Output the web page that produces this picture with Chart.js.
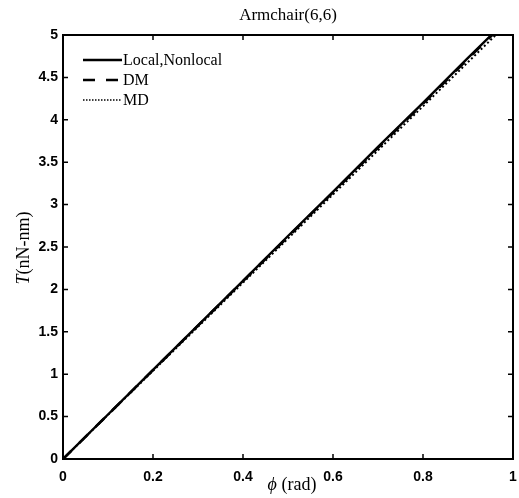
<!DOCTYPE html>
<html>
<head>
<meta charset="utf-8">
<script src="https://cdn.jsdelivr.net/npm/chart.js@4/dist/chart.umd.min.js"></script>
<style>
  html, body { margin: 0; padding: 0; background: #fff; }
  #wrap { width: 519px; height: 498px; }
</style>
</head>
<body>
<div id="wrap"><canvas id="torque-chart" width="519" height="498"></canvas></div>
<script>
// values
const phi = [0, 0.1, 0.2, 0.3, 0.4, 0.5, 0.6, 0.7, 0.8, 0.9, 1.0];
const localNonlocal = [0, 0.525, 1.05, 1.575, 2.1, 2.63, 3.15, 3.68, 4.2, 4.73, 5.25];
const dm = [0, 0.524, 1.048, 1.572, 2.097, 2.62, 3.145, 3.67, 4.19, 4.72, 5.24];
const md = [0, 0.52, 1.04, 1.56, 2.08, 2.6, 3.12, 3.64, 4.16, 4.68, 5.2];
const xTicks = [0, 0.2, 0.4, 0.6, 0.8, 1];
const yTicks = [0, 0.5, 1, 1.5, 2, 2.5, 3, 3.5, 4, 4.5, 5];

const toPoints = ys => phi.map((x, i) => ({ x: x, y: ys[i] }));

const legendItems = [
  { label: 'Local,Nonlocal', dash: [], width: 2.6 },
  { label: 'DM', dash: [12, 11], width: 2.6 },
  { label: 'MD', dash: [1.5, 1.5], width: 1.4 }
];

// box, inward ticks, legend and text
const decorations = {
  id: 'decorations',
  afterDraw(chart) {
    const ctx = chart.ctx;
    const a = chart.chartArea;
    const xs = chart.scales.x, ys = chart.scales.y;
    ctx.save();
    ctx.strokeStyle = '#000';
    ctx.lineWidth = 2;
    ctx.strokeRect(a.left, a.top, a.right - a.left, a.bottom - a.top);
    ctx.lineWidth = 1.5;
    const tl = 5;
    ctx.beginPath();
    xTicks.forEach(v => {
      const px = xs.getPixelForValue(v);
      ctx.moveTo(px, a.bottom); ctx.lineTo(px, a.bottom - tl);
      ctx.moveTo(px, a.top); ctx.lineTo(px, a.top + tl);
    });
    yTicks.forEach(v => {
      const py = ys.getPixelForValue(v);
      ctx.moveTo(a.left, py); ctx.lineTo(a.left + tl, py);
      ctx.moveTo(a.right, py); ctx.lineTo(a.right - tl, py);
    });
    ctx.stroke();

    // legend
    ctx.font = '16px "Liberation Serif", serif';
    ctx.textBaseline = 'middle';
    ctx.fillStyle = '#000';
    legendItems.forEach((it, i) => {
      const y = 60 + i * 20;
      ctx.beginPath();
      ctx.setLineDash(it.dash);
      ctx.lineWidth = it.width;
      ctx.moveTo(83, y); ctx.lineTo(122, y);
      ctx.stroke();
      ctx.setLineDash([]);
      ctx.fillText(it.label, 123, y + 1);
    });

    // title
    ctx.textAlign = 'center';
    ctx.font = '17px "Liberation Serif", serif';
    ctx.fillText('Armchair(6,6)', (a.left + a.right) / 2, 16);

    // x label: φ (rad)
    ctx.textAlign = 'left';
    ctx.font = 'italic 18px "Liberation Serif", serif';
    const phiW = ctx.measureText('\u03d5').width;
    ctx.font = '18px "Liberation Serif", serif';
    const restW = ctx.measureText(' (rad)').width;
    let sx = 292 - (phiW + restW) / 2;
    ctx.font = 'italic 18px "Liberation Serif", serif';
    ctx.fillText('\u03d5', sx, 485);
    ctx.font = '18px "Liberation Serif", serif';
    ctx.fillText(' (rad)', sx + phiW, 485);

    // y label: T(nN-nm)
    ctx.translate(24, 248);
    ctx.rotate(-Math.PI / 2);
    ctx.font = 'italic 18px "Liberation Serif", serif';
    const tW = ctx.measureText('T').width;
    ctx.font = '18px "Liberation Serif", serif';
    const uW = ctx.measureText('(nN-nm)').width;
    sx = -(tW + uW) / 2;
    ctx.font = 'italic 18px "Liberation Serif", serif';
    ctx.fillText('T', sx, 0);
    ctx.font = '18px "Liberation Serif", serif';
    ctx.fillText('(nN-nm)', sx + tW, 0);
    ctx.restore();
  }
};

const torqueCanvas = document.getElementById('torque-chart');
const tickFont = { family: '"Liberation Sans", Arial, sans-serif', size: 14, weight: 'bold' };

let torqueChart = new Chart(torqueCanvas, {
  type: 'scatter',
  data: {
    datasets: [
      { label: 'MD', data: toPoints(md), showLine: true, borderColor: '#000', borderWidth: 2, borderDash: [2, 2.5], pointRadius: 0 },
      { label: 'DM', data: toPoints(dm), showLine: true, borderColor: '#000', borderWidth: 2.6, borderDash: [12, 11], pointRadius: 0 },
      { label: 'Local,Nonlocal', data: toPoints(localNonlocal), showLine: true, borderColor: '#000', borderWidth: 2.4, pointRadius: 0 }
    ]
  },
  options: {
    responsive: false,
    animation: { duration: 0 },
    layout: { padding: { left: 0, top: 35, right: 6, bottom: 0 } },
    scales: {
      x: {
        type: 'linear', min: 0, max: 1,
        grid: { display: false, drawTicks: false },
        border: { display: false },
        afterBuildTicks: s => { s.ticks = xTicks.map(v => ({ value: v })); },
        afterFit: s => { s.height = 39; s.paddingLeft = 0; s.paddingRight = 0; },
        ticks: { color: '#000', font: tickFont, padding: 10, maxRotation: 0, callback: v => String(v) }
      },
      y: {
        type: 'linear', min: 0, max: 5,
        grid: { display: false, drawTicks: false },
        border: { display: false },
        afterBuildTicks: s => { s.ticks = yTicks.map(v => ({ value: v })); },
        afterFit: s => { s.width = 63; s.paddingTop = 0; s.paddingBottom = 0; },
        ticks: { color: '#000', font: tickFont, padding: 5, callback: v => String(v) }
      }
    },
    plugins: {
      legend: { display: false },
      tooltip: { enabled: false }
    }
  },
  plugins: [decorations]
});
</script>
</body>
</html>
